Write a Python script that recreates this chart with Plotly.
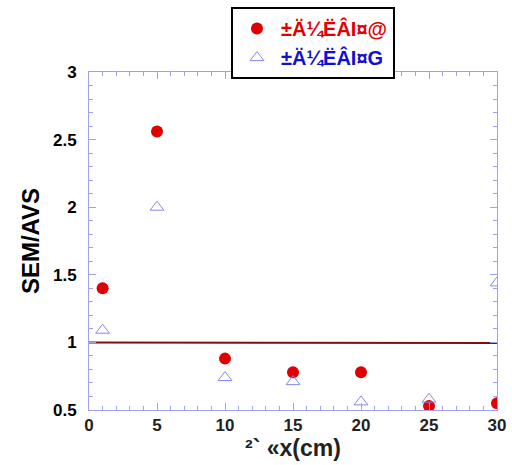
import plotly.graph_objects as go

depth = [1, 5, 10, 15, 20, 25, 30]
site1 = [1.40, 2.56, 0.88, 0.78, 0.78, 0.53, 0.55]
site2 = [1.09, 2.00, 0.74, 0.71, 0.56, 0.58, 1.44]
ref_x = [0, 30]
ref_y = [1.0, 0.995]

name1 = "±Ä¼ËÂI¤@"
name2 = "±Ä¼ËÂI¤G"
xtitle = "²` «x(cm)"
ytitle = "SEM/AVS"

font = "Arial, Liberation Sans, sans-serif"
axcol = "#a0a0f0"

fig = go.Figure()
fig.add_trace(go.Scatter(x=ref_x, y=ref_y, mode="lines",
                         line=dict(color="#7a1010", width=2), showlegend=False,
                         hoverinfo="skip"))
fig.add_trace(go.Scatter(x=depth, y=site1, mode="markers",
                         name="<span style='color:#e00000'>" + name1 + "</span>",
                         marker=dict(symbol="circle", size=12, color="#e00000",
                                     line=dict(width=0))))
fig.add_trace(go.Scatter(x=depth, y=site2, mode="markers",
                         name="<span style='color:#1010d0'>" + name2 + "</span>",
                         marker=dict(symbol="triangle-up-open", size=12, color="#8888ee",
                                     line=dict(width=1))))

fig.update_layout(
    width=512, height=465,
    margin=dict(l=89, r=15, t=72, b=55, autoexpand=False),
    plot_bgcolor="white", paper_bgcolor="white",
    font=dict(family=font, size=15, color="black"),
    legend=dict(x=0.348, y=1.192, xanchor="left", yanchor="top",
                bordercolor="black", borderwidth=2, bgcolor="white",
                font=dict(family=font, size=20, weight="bold"),
                itemwidth=38, tracegroupgap=0),
    showlegend=True,
)
fig.update_xaxes(range=[0, 30], tickvals=[0, 5, 10, 15, 20, 25, 30],
                 showgrid=False, zeroline=False, automargin=False,
                 showline=True, linecolor=axcol, linewidth=1, mirror="ticks",
                 ticks="inside", ticklen=7, tickcolor=axcol, tickwidth=1,
                 minor=dict(dtick=1, ticks="inside", ticklen=4, tickcolor=axcol, showgrid=False),
                 tickfont=dict(family=font, size=17, weight="bold", color="#222"),
                 title=dict(text=xtitle, font=dict(family=font, size=23, weight="bold", color="#222"),
                            standoff=2))
fig.update_yaxes(range=[0.5, 3], tickvals=[0.5, 1, 1.5, 2, 2.5, 3],
                 ticktext=["0.5", "1", "1.5", "2", "2.5", "3"],
                 showgrid=False, zeroline=False, automargin=False,
                 showline=True, linecolor=axcol, linewidth=1, mirror="ticks",
                 ticks="inside", ticklen=7, tickcolor=axcol, tickwidth=1,
                 minor=dict(dtick=0.1, ticks="inside", ticklen=4, tickcolor=axcol, showgrid=False),
                 tickfont=dict(family=font, size=17, weight="bold", color="black"),
                 ticklabelstandoff=8,
                 title=dict(text=ytitle, font=dict(family=font, size=24, weight="bold", color="black"),
                            standoff=6))

fig.write_html("out.html", config={"displayModeBar": False},
               post_script="document.body.style.margin='0';")
